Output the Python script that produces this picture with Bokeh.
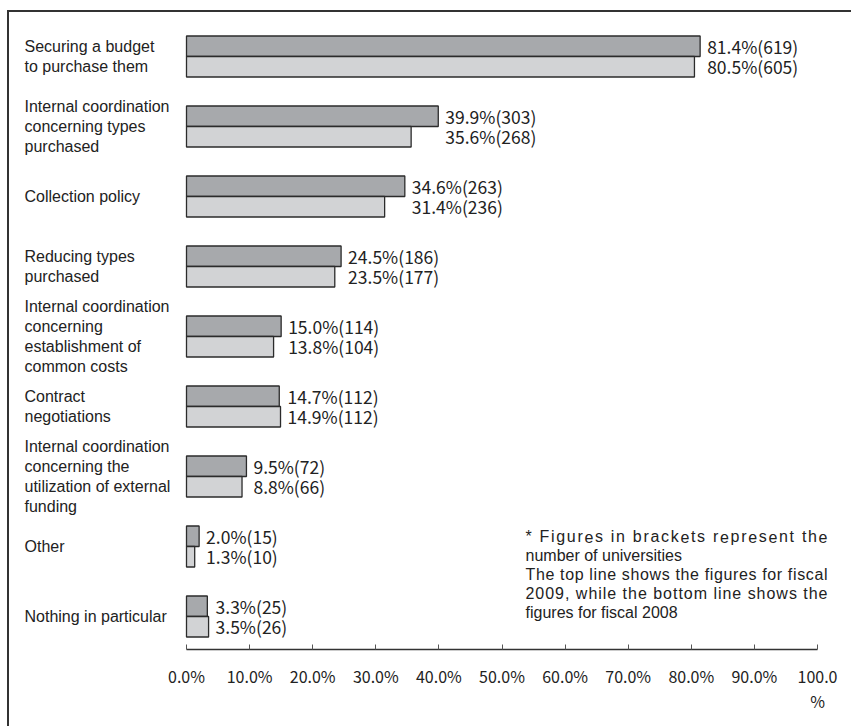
from bokeh.plotting import figure
from bokeh.models import ColumnDataSource, Range1d, FixedTicker
from bokeh.core.properties import value
from bokeh.embed import file_html
from bokeh.resources import INLINE

# ---------------- data ----------------
categories = [
    "Securing a budget\nto purchase them",
    "Internal coordination\nconcerning types\npurchased",
    "Collection policy",
    "Reducing types\npurchased",
    "Internal coordination\nconcerning\nestablishment of\ncommon costs",
    "Contract\nnegotiations",
    "Internal coordination\nconcerning the\nutilization of external\nfunding",
    "Other",
    "Nothing in particular",
]
pct_2009 = [81.4, 39.9, 34.6, 24.5, 15.0, 14.7, 9.5, 2.0, 3.3]
n_2009 = [619, 303, 263, 186, 114, 112, 72, 15, 25]
pct_2008 = [80.5, 35.6, 31.4, 23.5, 13.8, 14.9, 8.8, 1.3, 3.5]
n_2008 = [605, 268, 236, 177, 104, 112, 66, 10, 26]
tick_values = [0, 10, 20, 30, 40, 50, 60, 70, 80, 90, 100]
tick_labels = ["0.0%", "10.0%", "20.0%", "30.0%", "40.0%", "50.0%",
               "60.0%", "70.0%", "80.0%", "90.0%", "100.0\n%"]
note_lines = [
    "* Figures in brackets represent the",
    "number of universities",
    "The top line shows the figures for fiscal",
    "2009, while the bottom line shows the",
    "figures for fiscal 2008",
]
note_justified = [True, False, True, True, False]

# ---------------- layout (page pixels) ----------------
BORDER = 2
OX, OY = 7 + BORDER, 10 + BORDER          # canvas origin on the page
W, H = 853 - OX, 728 - OY
X0_PX, X100_PX = 186 - OX, 817 - OX       # x = 0 and x = 100
G0_PX, G_STEP = 56 - OY, 70               # centre of first group, pitch
AXIS_PX = 649 - OY                        # x axis line
BAR_H = 20.5 / G_STEP
CAT_LEFT = 24                             # page x of category labels
NOTE_LEFT, NOTE_RIGHT = 525, 827
NOTE_Y0, NOTE_DY = 536, 18.9
NOTE_SIZE = 16

ppu = (X100_PX - X0_PX) / 100.0
x_start = -X0_PX / ppu
x_end = (W - X0_PX) / ppu
n = len(categories)
y_top = -G0_PX / G_STEP
y_bottom = (n - 1) + (AXIS_PX - (G0_PX + (n - 1) * G_STEP)) / G_STEP


def px_to_x(page_px):
    return (page_px - OX - X0_PX) / ppu


def px_to_y(page_py):
    return (page_py - OY - G0_PX) / G_STEP


idx = list(range(n))
src = ColumnDataSource(dict(
    idx=idx,
    cat=categories,
    y09=[i - BAR_H / 2 for i in idx],
    y08=[i + BAR_H / 2 for i in idx],
    p09=pct_2009,
    p08=pct_2008,
    lx=[max(a, b) for a, b in zip(pct_2009, pct_2008)],
    l09=[f"{p:.1f}%({c})" for p, c in zip(pct_2009, n_2009)],
    l08=[f"{p:.1f}%({c})" for p, c in zip(pct_2008, n_2008)],
))

p = figure(width=W, height=H, output_backend="svg", toolbar_location=None,
           x_range=Range1d(x_start, x_end), y_range=Range1d(y_bottom, y_top),
           y_axis_location=None, min_border_left=0, min_border_right=0,
           min_border_top=0, min_border_bottom=H - AXIS_PX,
           margin=(10, 0, 0, 7),
           styles={"border-left": f"{BORDER}px solid #333",
                   "border-top": f"{BORDER}px solid #333"})
p.outline_line_color = None
p.xgrid.visible = False
p.ygrid.visible = False
p.background_fill_color = "white"
p.border_fill_color = "white"

p.hbar(y="y09", left=0, right="p09", height=BAR_H, source=src,
       fill_color="#a7a9ac", line_color="#2b2b2b", line_width=1.3)
p.hbar(y="y08", left=0, right="p08", height=BAR_H, source=src,
       fill_color="#d2d3d5", line_color="#2b2b2b", line_width=1.3)

lab_font = value("Noto Sans CJK JP")
for ycol, tcol in (("y09", "l09"), ("y08", "l08")):
    p.text(x="lx", y=ycol, text=tcol, source=src, x_offset=7,
           text_align="left", text_baseline="middle", text_font=lab_font,
           text_font_size="17.5px", text_color="#222")

p.text(x=0, y="idx", text="cat", source=src, x_offset=CAT_LEFT - 186,
       text_align="left", text_baseline="middle",
       text_font=value("Liberation Sans"), text_font_size="16px",
       text_line_height=1.19, text_color="#222")

# ---- note, justified lines laid out character by character (Arial metrics) ----
ARIAL = {" ": 278, "*": 389, ",": 278, "F": 611, "T": 611, "a": 556, "b": 556,
         "c": 500, "d": 556, "e": 556, "f": 278, "g": 556, "h": 556, "i": 222,
         "k": 500, "l": 222, "m": 833, "n": 556, "o": 556, "p": 556, "r": 333,
         "s": 500, "t": 278, "u": 556, "v": 500, "w": 722}
for d in "0123456789":
    ARIAL[d] = 556

nx, ny, nt = [], [], []
for k, (line, just) in enumerate(zip(note_lines, note_justified)):
    yk = px_to_y(NOTE_Y0 + k * NOTE_DY)
    if not just:
        nx.append(px_to_x(NOTE_LEFT)); ny.append(yk); nt.append(line)
        continue
    widths = [ARIAL.get(ch, 556) * NOTE_SIZE / 1000.0 for ch in line]
    extra = (NOTE_RIGHT - NOTE_LEFT - sum(widths)) / (len(line) - 1)
    pos = NOTE_LEFT
    for ch, w in zip(line, widths):
        if ch != " ":
            nx.append(px_to_x(pos)); ny.append(yk); nt.append(ch)
        pos += w + extra
p.text(x=nx, y=ny, text=nt, text_align="left", text_baseline="middle",
       text_font=value("Liberation Sans"), text_font_size=f"{NOTE_SIZE}px",
       text_color="#222")

ax = p.xaxis[0]
ax.ticker = FixedTicker(ticks=tick_values)
ax.bounds = (0, 100)
ax.major_label_overrides = dict(zip(tick_values, tick_labels))
ax.major_tick_in = 5
ax.major_tick_out = 0
ax.minor_tick_line_color = None
ax.axis_line_color = "#333"
ax.axis_line_width = 1.5
ax.major_tick_line_color = "#555"
ax.major_label_standoff = 14
ax.major_label_text_font = "Noto Sans CJK JP"
ax.major_label_text_font_size = "16px"
ax.major_label_text_line_height = 1.05
ax.major_label_text_color = "#222"

open("out.html", "w").write(file_html(p, INLINE))
